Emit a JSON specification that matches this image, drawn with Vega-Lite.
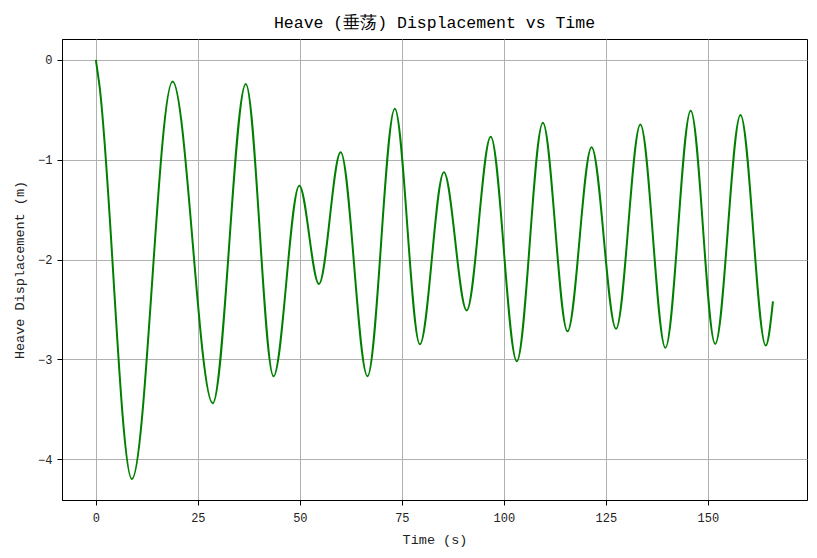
{
  "$schema": "https://vega.github.io/schema/vega-lite/v6.json",
  "width": 745,
  "height": 461,
  "autosize": {"type": "none"},
  "padding": {"left": 62, "top": 39, "right": 10, "bottom": 58},
  "background": "white",
  "title": {"text": "Heave (垂荡) Displacement vs Time", "font": "Liberation Mono", "fontSize": 16.5, "fontWeight": "normal", "color": "black", "offset": 8, "anchor": "middle"},
  "config": {
    "view": {"stroke": "black", "strokeWidth": 1},
    "axis": {
      "labelFont": "Liberation Mono", "labelFontSize": 12, "labelColor": "#222222",
      "titleFont": "Liberation Mono", "titleFontSize": 13.5, "titleFontWeight": "normal", "titleColor": "#222222",
      "domainColor": "black", "tickColor": "black", "tickSize": 5,
      "gridColor": "#b0b0b0", "gridWidth": 1, "gridOpacity": 1
    }
  },
  "data": {"values": [
    {"t": 0, "v": 0},
    {"t": 0.81, "v": -0.233},
    {"t": 8.84, "v": -4.2},
    {"t": 18.8, "v": -0.217},
    {"t": 28.65, "v": -3.44},
    {"t": 36.75, "v": -0.24},
    {"t": 43.55, "v": -3.17},
    {"t": 49.86, "v": -1.26},
    {"t": 54.68, "v": -2.245},
    {"t": 60.0, "v": -0.925},
    {"t": 66.57, "v": -3.17},
    {"t": 73.27, "v": -0.49},
    {"t": 79.42, "v": -2.85},
    {"t": 85.3, "v": -1.125},
    {"t": 90.89, "v": -2.51},
    {"t": 96.78, "v": -0.77},
    {"t": 103.17, "v": -3.02},
    {"t": 109.56, "v": -0.63},
    {"t": 115.6, "v": -2.72},
    {"t": 121.5, "v": -0.875},
    {"t": 127.5, "v": -2.695},
    {"t": 133.46, "v": -0.648},
    {"t": 139.6, "v": -2.885},
    {"t": 145.8, "v": -0.508},
    {"t": 151.8, "v": -2.846},
    {"t": 158.0, "v": -0.551},
    {"t": 164.2, "v": -2.862},
    {"t": 165.96, "v": -2.42}
  ]},
  "mark": {"type": "line", "color": "#008000", "strokeWidth": 2, "interpolate": "monotone", "clip": true},
  "encoding": {
    "x": {"field": "t", "type": "quantitative", "title": "Time (s)",
      "scale": {"domain": [-8.3, 174.3], "nice": false, "zero": false},
      "axis": {"values": [0, 25, 50, 75, 100, 125, 150], "labelPadding": 7, "titlePadding": 9}},
    "y": {"field": "v", "type": "quantitative", "title": "Heave Displacement (m)",
      "scale": {"domain": [-4.41, 0.21], "nice": false, "zero": false},
      "axis": {"values": [0, -1, -2, -3, -4], "labelPadding": 5, "titlePadding": 11}}
  }
}
